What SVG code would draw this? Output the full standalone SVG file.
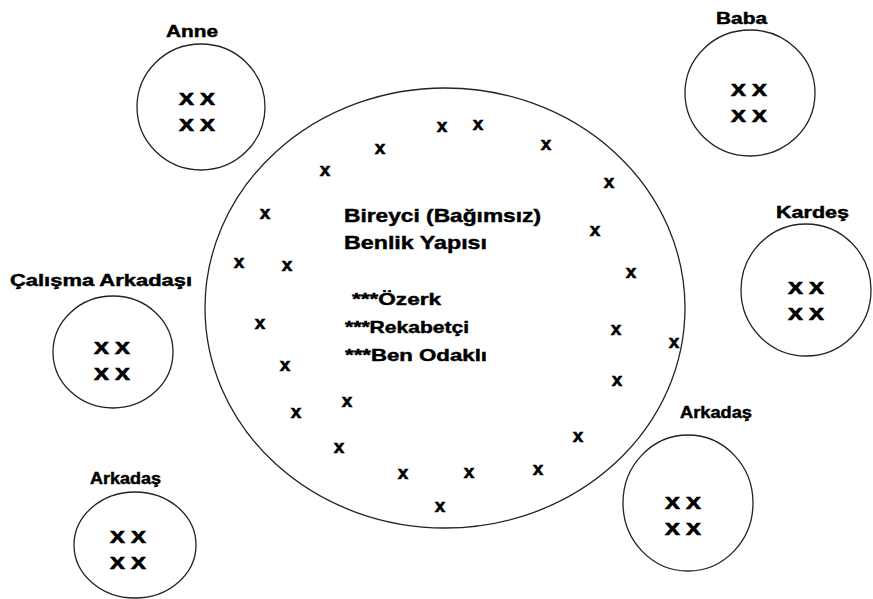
<svg xmlns="http://www.w3.org/2000/svg" width="873" height="599" viewBox="0 0 873 599">
<style>
.c{fill:none;stroke:#222;stroke-width:1.3}
text{font-family:"Liberation Sans",Arial,sans-serif;font-weight:bold;fill:#000;stroke:#000;stroke-width:0.45}
.lbl{font-size:16px}
.xx{font-size:17px;stroke-width:0.7}
.m{font-size:19px}
.s{font-size:17px}
.x{font-size:19px;text-anchor:middle;stroke-width:0.6}
</style>
<rect width="873" height="599" fill="#fff"/>
<g id="connectors"/>
<g id="center">
<ellipse class="c" cx="445" cy="308" rx="240" ry="220"/>
<text class="m" x="344" y="222" textLength="197" lengthAdjust="spacingAndGlyphs">Bireyci (Bağımsız)</text>
<text class="m" x="344" y="249" textLength="143" lengthAdjust="spacingAndGlyphs">Benlik Yapısı</text>
<text class="s" x="352" y="305" textLength="89" lengthAdjust="spacingAndGlyphs">***Özerk</text>
<text class="s" x="345" y="333" textLength="124" lengthAdjust="spacingAndGlyphs">***Rekabetçi</text>
<text class="s" x="345" y="361" textLength="142" lengthAdjust="spacingAndGlyphs">***Ben Odaklı</text>
<g id="members">
<text class="x" x="442" y="132">x</text>
<text class="x" x="478" y="130">x</text>
<text class="x" x="380" y="154">x</text>
<text class="x" x="546" y="150">x</text>
<text class="x" x="325" y="176">x</text>
<text class="x" x="609" y="188">x</text>
<text class="x" x="265" y="219">x</text>
<text class="x" x="595" y="236">x</text>
<text class="x" x="239" y="268">x</text>
<text class="x" x="287" y="271">x</text>
<text class="x" x="631" y="278">x</text>
<text class="x" x="260" y="329">x</text>
<text class="x" x="616" y="335">x</text>
<text class="x" x="674" y="348">x</text>
<text class="x" x="285" y="371">x</text>
<text class="x" x="617" y="386">x</text>
<text class="x" x="347" y="407">x</text>
<text class="x" x="296" y="418">x</text>
<text class="x" x="578" y="442">x</text>
<text class="x" x="339" y="453">x</text>
<text class="x" x="403" y="479">x</text>
<text class="x" x="469" y="478">x</text>
<text class="x" x="538" y="475">x</text>
<text class="x" x="440" y="512">x</text>
</g>
</g>
<g id="anne">
<ellipse class="c" cx="201" cy="107" rx="64" ry="63"/>
<text class="lbl" x="166" y="37" textLength="52" lengthAdjust="spacingAndGlyphs">Anne</text>
<text class="xx" x="179" y="105" textLength="36" lengthAdjust="spacingAndGlyphs">X X</text>
<text class="xx" x="179" y="131" textLength="36" lengthAdjust="spacingAndGlyphs">X X</text>
</g>
<g id="baba">
<ellipse class="c" cx="750" cy="93" rx="65" ry="63"/>
<text class="lbl" x="716" y="24" textLength="51" lengthAdjust="spacingAndGlyphs">Baba</text>
<text class="xx" x="731" y="96" textLength="36" lengthAdjust="spacingAndGlyphs">X X</text>
<text class="xx" x="731" y="122" textLength="36" lengthAdjust="spacingAndGlyphs">X X</text>
</g>
<g id="kardes">
<ellipse class="c" cx="806" cy="290" rx="65" ry="66"/>
<text class="lbl" x="776" y="218" textLength="73" lengthAdjust="spacingAndGlyphs">Kardeş</text>
<text class="xx" x="788" y="294" textLength="36" lengthAdjust="spacingAndGlyphs">X X</text>
<text class="xx" x="788" y="320" textLength="36" lengthAdjust="spacingAndGlyphs">X X</text>
</g>
<g id="calisma-arkadasi">
<ellipse class="c" cx="113" cy="352" rx="60" ry="56"/>
<text class="lbl" x="10" y="286" textLength="182" lengthAdjust="spacingAndGlyphs">Çalışma Arkadaşı</text>
<text class="xx" x="94" y="354" textLength="36" lengthAdjust="spacingAndGlyphs">X X</text>
<text class="xx" x="94" y="380" textLength="36" lengthAdjust="spacingAndGlyphs">X X</text>
</g>
<g id="arkadas-right">
<ellipse class="c" cx="688" cy="503" rx="65" ry="68"/>
<text class="lbl" x="680" y="418" textLength="72" lengthAdjust="spacingAndGlyphs">Arkadaş</text>
<text class="xx" x="665" y="509" textLength="36" lengthAdjust="spacingAndGlyphs">X X</text>
<text class="xx" x="665" y="535" textLength="36" lengthAdjust="spacingAndGlyphs">X X</text>
</g>
<g id="arkadas-left">
<ellipse class="c" cx="135" cy="545" rx="61" ry="53"/>
<text class="lbl" x="90" y="484" textLength="71" lengthAdjust="spacingAndGlyphs">Arkadaş</text>
<text class="xx" x="110" y="543" textLength="36" lengthAdjust="spacingAndGlyphs">X X</text>
<text class="xx" x="110" y="569" textLength="36" lengthAdjust="spacingAndGlyphs">X X</text>
</g>
</svg>
